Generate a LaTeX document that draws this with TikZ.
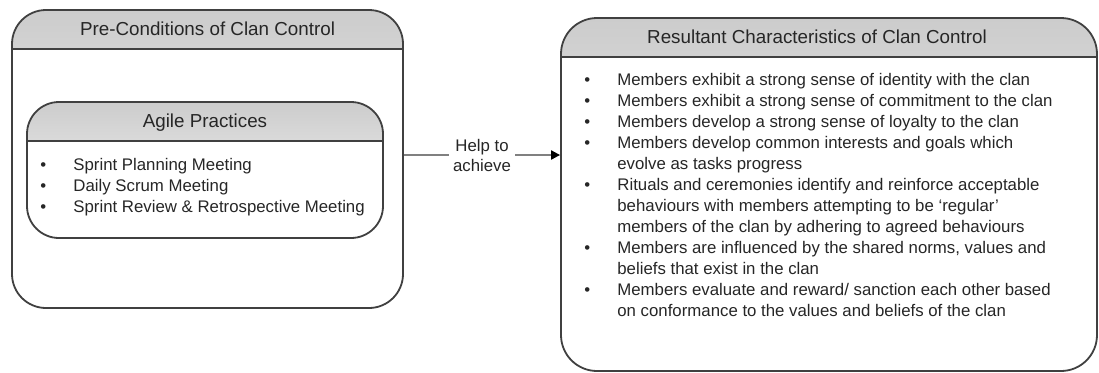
\documentclass[tikz,border=0pt]{standalone}
\usepackage{fontspec}
\setmainfont{Liberation Sans}
\usetikzlibrary{arrows.meta}

\begin{document}
\begin{tikzpicture}[x=0.5pt,y=0.5pt,
  panel/.style={draw=black!75,line width=0.9pt,inner sep=0pt,
    path picture={
      \shade[sharp corners,top color=black!20,bottom color=black!1]
        (path picture bounding box.north west) rectangle ([yshift=-19.5pt]path picture bounding box.north east);
      \draw[sharp corners,black!75,line width=0.9pt] ([yshift=-19.5pt]path picture bounding box.north west) -- ([yshift=-19.5pt]path picture bounding box.north east);}},
  title/.style={anchor=base,font=\fontsize{9.4}{11}\selectfont,text=black!85},
  items/.style={anchor=base west,inner sep=0pt,font=\fontsize{8.4}{10.5}\selectfont,text=black!85},
  link/.style={draw=black!50,line width=1pt,-{Triangle[length=4.5pt,width=4.5pt,color=black]}}]
  \useasboundingbox (0,0) rectangle (1099,372);

  % boxes
  \node[panel,rounded corners=17pt,minimum width=195.5pt,minimum height=149pt] (pre) at (207.5,213) {};
  \node[panel,rounded corners=16pt,minimum width=178pt,minimum height=68pt] (agile) at (205,202) {};
  \node[panel,rounded corners=18pt,minimum width=268pt,minimum height=176.5pt] (res) at (829,177.5) {};

  % headers
  \node[title] (preT) at ([yshift=-13.1pt]pre.north) {Pre-Conditions of Clan Control};
  \node[title] (agileT) at ([yshift=-13.1pt]agile.north) {Agile Practices};
  \node[title] (resT) at ([xshift=-6pt,yshift=-13.1pt]res.north) {Resultant Characteristics of Clan Control};

  % lists
  \node[items] (agileL) at (40,202) {\begin{tabular}[t]{@{}p{16.5pt}@{}l@{}}
    \textbullet & Sprint Planning Meeting\\
    \textbullet & Daily Scrum Meeting\\
    \textbullet & Sprint Review \& Retrospective Meeting
  \end{tabular}};
  \node[items] (resL) at (584,287) {\begin{tabular}[t]{@{}p{16.5pt}@{}l@{}}
    \textbullet & Members exhibit a strong sense of identity with the clan\\
    \textbullet & Members exhibit a strong sense of commitment to the clan\\
    \textbullet & Members develop a strong sense of loyalty to the clan\\
    \textbullet & Members develop common interests and goals which\\
                & evolve as tasks progress\\
    \textbullet & Rituals and ceremonies identify and reinforce acceptable\\
                & behaviours with members attempting to be `regular'\\
                & members of the clan by adhering to agreed behaviours\\
    \textbullet & Members are influenced by the shared norms, values and\\
                & beliefs that exist in the clan\\
    \textbullet & Members evaluate and reward/ sanction each other based\\
                & on conformance to the values and beliefs of the clan
  \end{tabular}};

  % connector
  \draw[link] ([yshift=2pt]pre.east) -- ([yshift=2pt]pre.east -| res.west)
    node[midway,fill=white,inner sep=2pt,align=center,text=black!85,font=\fontsize{8.4}{10}\selectfont] (help) {Help to\\achieve};
\end{tikzpicture}
\end{document}
